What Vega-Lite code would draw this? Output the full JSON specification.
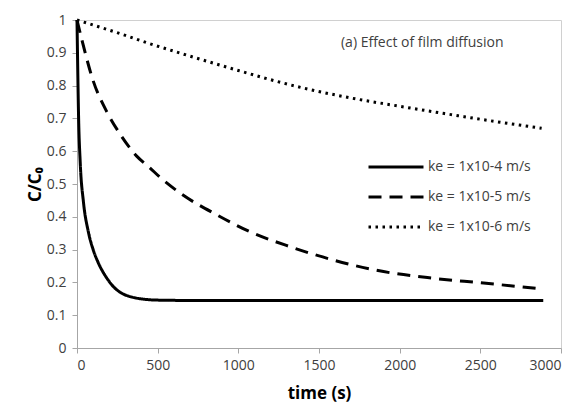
{
  "$schema": "https://vega.github.io/schema/vega-lite/v6.json",
  "autosize": "none",
  "width": 484,
  "height": 328,
  "padding": {"left": 77, "top": 20, "right": 23, "bottom": 57},
  "background": "white",
  "config": {
    "font": "Open Sans",
    "view": {"stroke": "#d0d0d0", "strokeWidth": 1},
    "axis": {
      "grid": false,
      "domainColor": "#a6a6a6",
      "tickColor": "#a6a6a6",
      "tickSize": 5,
      "labelOverlap": false,
      "labelFont": "Open Sans",
      "labelFontSize": 14,
      "labelColor": "#404040",
      "titleFont": "Open Sans",
      "titleFontWeight": "bold",
      "titleFontSize": 17,
      "titleColor": "#000000"
    }
  },
  "datasets": {
    "curves": [
      {"series": "ke = 1x10-4 m/s", "t": 0, "c": 1.0},
      {"series": "ke = 1x10-4 m/s", "t": 3, "c": 0.9},
      {"series": "ke = 1x10-4 m/s", "t": 10, "c": 0.70},
      {"series": "ke = 1x10-4 m/s", "t": 20, "c": 0.565},
      {"series": "ke = 1x10-4 m/s", "t": 40, "c": 0.445},
      {"series": "ke = 1x10-4 m/s", "t": 70, "c": 0.355},
      {"series": "ke = 1x10-4 m/s", "t": 100, "c": 0.30},
      {"series": "ke = 1x10-4 m/s", "t": 130, "c": 0.262},
      {"series": "ke = 1x10-4 m/s", "t": 185, "c": 0.213},
      {"series": "ke = 1x10-4 m/s", "t": 230, "c": 0.185},
      {"series": "ke = 1x10-4 m/s", "t": 270, "c": 0.169},
      {"series": "ke = 1x10-4 m/s", "t": 320, "c": 0.158},
      {"series": "ke = 1x10-4 m/s", "t": 370, "c": 0.152},
      {"series": "ke = 1x10-4 m/s", "t": 430, "c": 0.148},
      {"series": "ke = 1x10-4 m/s", "t": 500, "c": 0.146},
      {"series": "ke = 1x10-4 m/s", "t": 700, "c": 0.145},
      {"series": "ke = 1x10-4 m/s", "t": 1500, "c": 0.145},
      {"series": "ke = 1x10-4 m/s", "t": 2890, "c": 0.145},
      {"series": "ke = 1x10-5 m/s", "t": 0, "c": 1.0},
      {"series": "ke = 1x10-5 m/s", "t": 30, "c": 0.94},
      {"series": "ke = 1x10-5 m/s", "t": 100, "c": 0.815},
      {"series": "ke = 1x10-5 m/s", "t": 185, "c": 0.72},
      {"series": "ke = 1x10-5 m/s", "t": 270, "c": 0.65},
      {"series": "ke = 1x10-5 m/s", "t": 370, "c": 0.585},
      {"series": "ke = 1x10-5 m/s", "t": 450, "c": 0.55},
      {"series": "ke = 1x10-5 m/s", "t": 520, "c": 0.518},
      {"series": "ke = 1x10-5 m/s", "t": 640, "c": 0.472},
      {"series": "ke = 1x10-5 m/s", "t": 870, "c": 0.405},
      {"series": "ke = 1x10-5 m/s", "t": 1070, "c": 0.355},
      {"series": "ke = 1x10-5 m/s", "t": 1320, "c": 0.309},
      {"series": "ke = 1x10-5 m/s", "t": 1590, "c": 0.268},
      {"series": "ke = 1x10-5 m/s", "t": 1900, "c": 0.233},
      {"series": "ke = 1x10-5 m/s", "t": 2200, "c": 0.213},
      {"series": "ke = 1x10-5 m/s", "t": 2520, "c": 0.198},
      {"series": "ke = 1x10-5 m/s", "t": 2880, "c": 0.18},
      {"series": "ke = 1x10-6 m/s", "t": 0, "c": 1.0},
      {"series": "ke = 1x10-6 m/s", "t": 150, "c": 0.977},
      {"series": "ke = 1x10-6 m/s", "t": 300, "c": 0.953},
      {"series": "ke = 1x10-6 m/s", "t": 450, "c": 0.928},
      {"series": "ke = 1x10-6 m/s", "t": 600, "c": 0.905},
      {"series": "ke = 1x10-6 m/s", "t": 800, "c": 0.875},
      {"series": "ke = 1x10-6 m/s", "t": 1000, "c": 0.846},
      {"series": "ke = 1x10-6 m/s", "t": 1200, "c": 0.818},
      {"series": "ke = 1x10-6 m/s", "t": 1400, "c": 0.793},
      {"series": "ke = 1x10-6 m/s", "t": 1700, "c": 0.762},
      {"series": "ke = 1x10-6 m/s", "t": 2000, "c": 0.737},
      {"series": "ke = 1x10-6 m/s", "t": 2300, "c": 0.713},
      {"series": "ke = 1x10-6 m/s", "t": 2600, "c": 0.690},
      {"series": "ke = 1x10-6 m/s", "t": 2880, "c": 0.670}
    ],
    "note": [
      {"t": 2140, "c": 0.93, "label": "(a) Effect of film diffusion"}
    ]
  },
  "layer": [
    {
      "data": {"name": "curves"},
      "mark": {"type": "line", "color": "black", "strokeCap": "butt", "interpolate": "monotone"},
      "encoding": {
        "x": {
          "field": "t", "type": "quantitative",
          "scale": {"domain": [0, 3000], "nice": false},
          "axis": {"values": [0, 500, 1000, 1500, 2000, 2500, 3000], "format": "d", "labelOverlap": false, "title": "time (s)", "titlePadding": 13, "labelPadding": 5}
        },
        "y": {
          "field": "c", "type": "quantitative",
          "scale": {"domain": [0, 1], "nice": false},
          "axis": {"values": [0, 0.1, 0.2, 0.3, 0.4, 0.5, 0.6, 0.7, 0.8, 0.9, 1], "format": "~g", "labelOverlap": false, "title": "C/C₀", "titlePadding": 2, "labelPadding": 6}
        },
        "strokeDash": {
          "field": "series", "type": "nominal",
          "scale": {"domain": ["ke = 1x10-4 m/s", "ke = 1x10-5 m/s", "ke = 1x10-6 m/s"], "range": [[1, 0], [13, 8], [2.5, 4.5]]},
          "legend": {
            "orient": "none", "legendX": 312, "legendY": 140, "title": null,
            "symbolType": "M-6,0H6", "symbolSize": 84, "symbolStrokeColor": "black",
            "labelFont": "Open Sans", "labelFontSize": 14, "labelColor": "#404040",
            "labelOffset": 25, "rowPadding": 16
          }
        },
        "strokeWidth": {
          "field": "series", "type": "nominal",
          "scale": {"domain": ["ke = 1x10-4 m/s", "ke = 1x10-5 m/s", "ke = 1x10-6 m/s"], "range": [3, 3, 2.5]},
          "legend": null
        }
      }
    },
    {
      "data": {"name": "note"},
      "mark": {"type": "text", "font": "Open Sans", "fontSize": 14, "color": "#404040", "align": "center", "baseline": "middle"},
      "encoding": {
        "x": {
          "field": "t", "type": "quantitative",
          "axis": {"values": [0, 500, 1000, 1500, 2000, 2500, 3000], "format": "d", "labelOverlap": false, "title": "time (s)", "titlePadding": 13, "labelPadding": 5}
        },
        "y": {
          "field": "c", "type": "quantitative",
          "axis": {"values": [0, 0.1, 0.2, 0.3, 0.4, 0.5, 0.6, 0.7, 0.8, 0.9, 1], "format": "~g", "labelOverlap": false, "title": "C/C₀", "titlePadding": 2, "labelPadding": 6}
        },
        "text": {"field": "label"}
      }
    }
  ]
}
